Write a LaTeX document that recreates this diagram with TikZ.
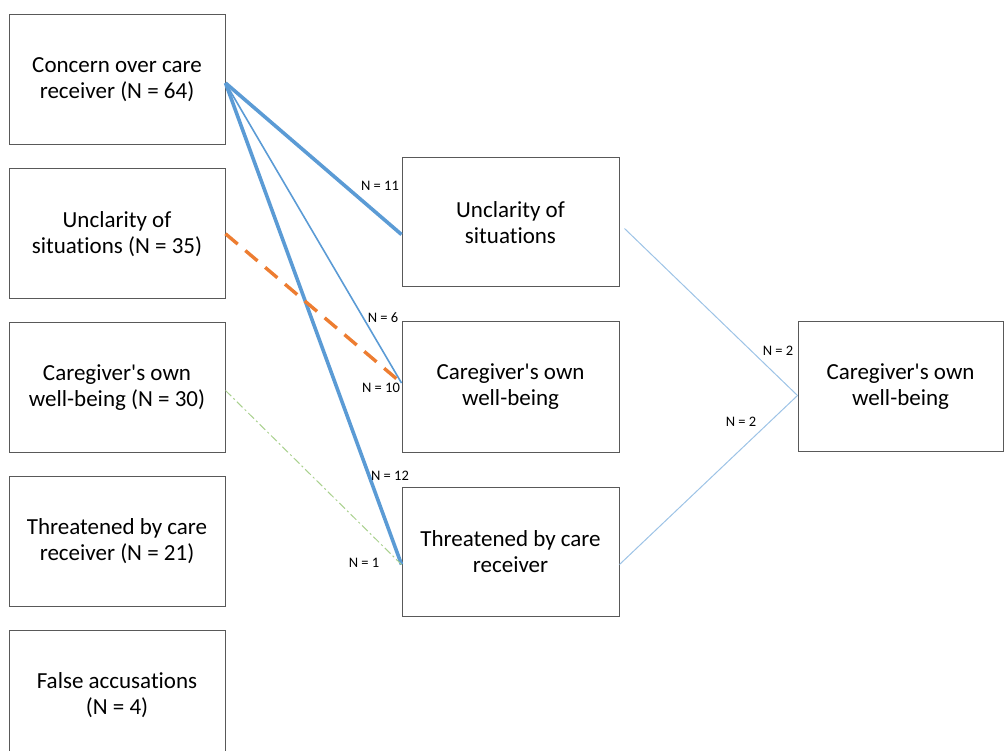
\documentclass[tikz,border=0pt]{standalone}
\usepackage{fontspec}
\setmainfont{Carlito}[Ligatures={TeX,NoCommon}]
\usetikzlibrary{positioning}
\definecolor{boxgray}{HTML}{595959}
\definecolor{linkblue}{HTML}{5B9BD5}
\definecolor{linklight}{HTML}{9DC3E6}
\definecolor{linkorange}{HTML}{ED7D31}
\definecolor{linkgreen}{HTML}{A9D18E}
\newcommand{\apos}{\textquotesingle}

\begin{document}
\begin{tikzpicture}[x=1pt, y=-1pt,
    themebox/.style={draw=boxgray, line width=1pt, minimum width=216pt,
      minimum height=130pt, align=center, inner sep=0pt,
      font=\fontsize{23}{26}\selectfont},
    nlabel/.style={font=\fontsize{14.5}{16}\selectfont, inner sep=0pt}]
  \clip (0,0) rectangle (1004,751);
  \useasboundingbox (0,0) rectangle (1004,751);

  % themes (left column)
  \node[themebox] (conc) at (117,80) {Concern over care\\receiver (N = 64)};
  \node[themebox, below=22.75pt of conc] (unc1) {Unclarity of\\situations (N = 35)};
  \node[themebox, below=22.75pt of unc1] (own1) {Caregiver\apos s own\\well-being (N = 30)};
  \node[themebox, below=22.75pt of own1] (thr1) {Threatened by care\\receiver (N = 21)};
  \node[themebox, below=22.75pt of thr1] (fal1) {False accusations\\(N = 4)};

  % middle column
  \node[themebox, minimum width=217pt, minimum height=129pt] (unc2) at (510.5,222.5) {Unclarity of\\situations};
  \node[themebox, minimum width=217pt, below=34pt of unc2] (own2) {Caregiver\apos s own\\well-being};
  \node[themebox, minimum width=217pt, minimum height=129pt, below=34pt of own2] (thr2) {Threatened by care\\receiver};

  % right column
  \node[themebox, minimum width=205pt, minimum height=129pt] (own3) at (900.5,386.5) {Caregiver\apos s own\\well-being};

  % end points
  \coordinate (concout) at ([yshift=-3pt]conc.east);
  \coordinate (unc2in) at ([yshift=-12pt]unc2.west);
  \coordinate (own2in) at ([yshift=4pt]own2.west);
  \coordinate (thr2in) at ([yshift=-13pt]thr2.west);
  \coordinate (unc2out) at ([xshift=5pt,yshift=-6pt]unc2.east);
  \coordinate (thr2out) at ([yshift=-13pt]thr2.east);
  \coordinate (own3in) at ([yshift=-9pt]own3.west);

  % connectors
  \draw[linkblue, line width=3.6pt] (concout) -- (unc2in);
  \draw[linkblue, line width=1.6pt] (concout) -- (own2in);
  \draw[linkblue, line width=3.6pt] (concout) -- (thr2in);
  \draw[linkorange, line width=3.4pt, dash pattern=on 16pt off 10pt] (unc1.east) -- (own2in);
  \draw[linkgreen, line width=1pt, dash pattern=on 8pt off 3pt on 2pt off 3pt] ([yshift=-3pt]own1.east) -- (thr2in);
  \draw[linklight, line width=1pt] (unc2out) -- (own3in);
  \draw[linklight, line width=1pt] (thr2out) -- (own3in);

  % counts
  \node[nlabel] (n11) at (380,186) {N = 11};
  \node[nlabel] (n6) at (383,318) {N = 6};
  \node[nlabel] (n10) at (381,388) {N = 10};
  \node[nlabel] (n12) at (390,476) {N = 12};
  \node[nlabel] (n1) at (364,563) {N = 1};
  \node[nlabel] (n2a) at (778,351) {N = 2};
  \node[nlabel] (n2b) at (741,422) {N = 2};
\end{tikzpicture}
\end{document}
